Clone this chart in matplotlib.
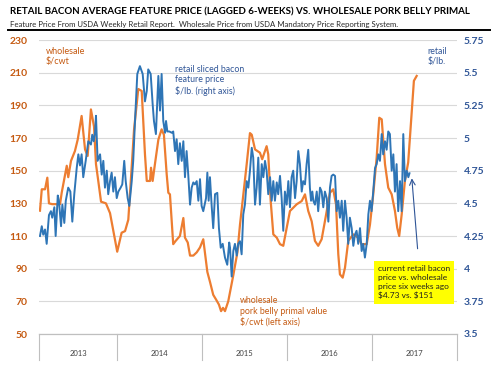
import numpy as np
import matplotlib
matplotlib.use('Agg')
import matplotlib.pyplot as plt
from matplotlib.transforms import blended_transform_factory

plt.rcParams['font.family'] = ['Lato', 'DejaVu Sans']

# 周次，年份分界
year_edges = [0, 48, 100, 152, 204, 256]
year_labels = ['2013', '2014', '2015', '2016', '2017']

# 批发价 猪腹肉 $/cwt（左轴）
wholesale_week = [0.6, 1.7, 3.7, 5.1, 6.1, 8.0, 12.9, 13.9, 17.0, 17.9, 19.6, 22.0, 23.7, 26.1, 28.2,
                  29.8, 31.8, 33.7, 34.9, 36.3, 38.0, 41.0, 43.5, 47.9, 50.6, 52.7, 54.7, 56.3, 58.2,
                  60.8, 62.9, 64.9, 66.0, 68.0, 68.6, 69.6, 71.0, 73.1, 75.1, 76.5, 78.2, 79.2, 80.2,
                  82.2, 83.7, 86.3, 88.4, 89.4, 91.1, 92.5, 94.5, 96.6, 98.6, 100.6, 103.1, 104.7,
                  106.7, 108.5, 110.2, 111.5, 112.7, 113.9, 115.9, 119.0, 121.5, 123.1, 125.1, 127.2,
                  129.2, 130.3, 132.3, 135.3, 136.7, 139.4, 140.4, 141.9, 143.5, 145.6, 147.6, 149.6,
                  151.7, 153.7, 155.7, 157.8, 160.9, 162.9, 164.9, 167.0, 169.0, 171.0, 173.1, 175.1,
                  178.2, 180.2, 181.9, 183.3, 184.3, 186.0, 187.4, 189.4, 192.5, 195.5, 197.6, 200.7,
                  202.7, 204.7, 206.8, 208.4, 209.9, 211.9, 213.9, 216.0, 218.0, 219.4, 220.6, 222.1,
                  224.1, 226.1, 227.6, 229.6, 231.3]
wholesale = [125.5, 138.6, 138.6, 145.7, 130, 129.5, 129.5, 136.5, 153, 146, 156, 162, 169, 183.5, 163,
             159, 187.5, 177, 154, 143.7, 131, 130, 124, 100.4, 112, 113, 120, 145, 175,
             200, 198.8, 160, 143.7, 143.7, 151.8, 143.7, 154, 169, 175.3, 172, 147.8, 136.5, 135.5,
             105, 107, 110, 121, 109, 106, 98, 98, 100, 103, 108, 88, 82,
             74, 71, 68, 64, 66, 64, 70, 86, 100, 117, 135, 154,
             173, 172, 163, 161, 157, 165, 160, 131.4, 111, 109, 105, 104,
             115, 125.3, 127.3, 129.4, 131.4, 135.5, 125.3, 119, 107, 104, 108, 119,
             136.5, 138.6, 129.4, 98.8, 86.5, 84.5, 90.6, 107, 111, 109, 105, 105,
             117, 135.5, 158, 182.4, 181.4, 154, 139.6, 135.5, 125.3, 115, 110, 123,
             143.7, 155, 176.3, 205, 208]

# 零售培根特价 $/lb（右轴）
retail_week = [0.6, 1.7, 2.6, 3.7, 4.7, 6.1, 7.3, 8.1, 9.4, 10.2, 11.5, 12.2, 13.5, 14.3, 15.5, 16.4,
               17.9, 19.2, 20.4, 21.6, 23.1, 24.1, 25.1, 26.1, 27.1, 28.6, 30.2, 31.8, 32.6, 33.5,
               34.3, 34.9, 35.9, 37.4, 38.4, 39.4, 40.4, 41.5, 42.4, 43.5, 44.5, 45.5, 46.5, 47.6,
               48.6, 50.0, 51.0, 52.2, 53.1, 54.3, 55.3, 56.8, 57.7, 58.8, 60.2, 61.8, 63.5, 64.9,
               66.0, 66.9, 68.4, 69.6, 70.4, 71.6, 73.1, 74.1, 75.1, 76.1, 77.2, 77.8, 78.6, 79.8,
               81.3, 82.2, 83.3, 84.3, 85.3, 86.3, 87.4, 88.4, 89.4, 90.4, 91.4, 92.5, 93.5, 94.5,
               95.5, 96.6, 97.6, 98.6, 99.6, 100.6, 102.3, 103.1, 103.9, 104.7, 105.8, 106.7, 107.8,
               109.2, 110.2, 111.3, 112.5, 113.9, 115.3, 116.5, 117.0, 118.0, 119.0, 120.0, 121.1,
               122.0, 123.1, 124.1, 125.1, 126.1, 127.2, 128.2, 129.2, 130.3, 131.2, 132.3, 133.3,
               134.3, 135.3, 136.4, 137.4, 138.4, 139.4, 140.4, 141.5, 142.5, 143.5, 144.5, 145.6,
               146.5, 147.6, 148.6, 149.6, 150.6, 151.7, 152.7, 153.7, 154.7, 155.7, 156.8, 157.8,
               158.8, 159.8, 160.9, 161.8, 162.9, 163.9, 164.9, 165.9, 166.6, 167.4, 168.0, 169.0,
               170.1, 171.0, 172.1, 173.1, 174.1, 175.1, 176.2, 177.2, 178.2, 179.2, 180.2, 181.3,
               182.3, 183.3, 184.3, 185.4, 186.3, 187.4, 188.4, 189.4, 190.4, 191.5, 192.5, 193.5,
               194.5, 195.5, 196.6, 197.6, 198.6, 199.6, 200.7, 201.7, 202.7, 203.7, 204.7, 205.8,
               206.8, 207.8, 208.8, 209.9, 210.8, 211.9, 212.9, 213.9, 214.9, 216.0, 217.0, 218.0,
               219.0, 220.0, 221.1, 222.1, 223.1, 224.1, 225.2, 226.2, 226.9]
retail = [4.25, 4.325, 4.26, 4.30, 4.19, 4.41, 4.44, 4.39, 4.47, 4.25, 4.56, 4.52, 4.325, 4.49, 4.35, 4.52,
          4.62, 4.59, 4.36, 4.57, 4.77, 4.875, 4.79, 4.875, 4.70, 4.825, 4.975, 4.95, 5.025, 4.975,
          5.04, 5.17, 4.825, 4.875, 4.72, 4.825, 4.62, 4.75, 4.57, 4.67, 4.735, 4.59, 4.70, 4.54,
          4.59, 4.62, 4.645, 4.825, 4.67, 4.54, 4.48, 4.67, 4.825, 5.13, 5.49, 5.55, 5.49, 5.28,
          5.36, 5.525, 5.49, 5.26, 5.13, 5.03, 5.475, 5.21, 5.49, 5.13, 5.04, 5.13, 5.05, 5.05,
          5.04, 5.05, 4.90, 4.99, 4.80, 4.96, 4.825, 4.975, 4.70, 4.90, 4.72, 4.49, 4.62, 4.66,
          4.645, 4.67, 4.52, 4.685, 4.48, 4.44, 4.54, 4.735, 4.52, 4.70, 4.47, 4.31, 4.57,
          4.58, 4.31, 4.16, 4.19, 4.085, 4.03, 4.20, 4.16, 3.94, 4.135, 4.19, 4.10,
          4.19, 4.21, 4.11, 4.415, 4.49, 4.67, 4.62, 4.75, 4.925, 4.85, 4.49, 4.62,
          4.85, 4.49, 4.80, 4.70, 4.825, 4.75, 4.57, 4.70, 4.52, 4.67, 4.52, 4.66,
          4.57, 4.71, 4.54, 4.29, 4.59, 4.49, 4.67, 4.47, 4.70, 4.75, 4.54, 4.67,
          4.90, 4.80, 4.59, 4.67, 4.645, 4.80, 4.91, 4.62, 4.52, 4.59, 4.52, 4.49,
          4.59, 4.44, 4.62, 4.59, 4.47, 4.59, 4.54, 4.36, 4.62, 4.71, 4.72, 4.71,
          4.44, 4.52, 4.39, 4.52, 4.29, 4.52, 4.39, 4.19, 4.39, 4.31, 4.175, 4.26,
          4.29, 4.19, 4.31, 4.135, 4.19, 4.085, 4.19, 4.415, 4.52, 4.44, 4.59, 4.77,
          4.80, 4.875, 4.825, 5.03, 4.875, 4.975, 4.91, 5.05, 5.03, 4.75, 4.875, 4.59,
          4.80, 4.44, 4.67, 4.44, 5.03, 4.67, 4.75, 4.70, 4.73]

left_ticks = [50, 70, 90, 110, 130, 150, 170, 190, 210, 230]
right_ticks = [3.5, 3.75, 4, 4.25, 4.5, 4.75, 5, 5.25, 5.5, 5.75]
right_labels = ['3.5', '3.75', '4', '4.25', '4.5', '4.75', '5', '5.25', '5.5', '5.75']

orange = '#ED7D31'
orange_txt = '#C55A11'
blue = '#2E75B6'
blue_txt = '#2F5597'

fig = plt.figure(figsize=(4.91, 3.66), dpi=100)
ax = fig.add_axes([39 / 491, 1 - 334 / 366, 418 / 491, 294 / 366])
ax2 = ax.twinx()

ax.set_xlim(0, 256)
ax.set_ylim(50, 230)
ax2.set_ylim(3.5, 5.75)
ax.set_yticks(left_ticks)
ax.set_yticklabels([str(t) for t in left_ticks], color=orange_txt, fontsize=7.5, fontweight='bold')
ax2.set_yticks(right_ticks)
ax2.set_yticklabels(right_labels, color=blue_txt, fontsize=7.5, fontweight='bold')
ax.tick_params(axis='y', length=0, pad=8)
ax2.tick_params(axis='y', length=0, pad=5)
ax.set_xticks([])
ax.grid(axis='y', color='#D9D9D9', linewidth=0.8)
ax.set_axisbelow(True)
for a in (ax, ax2):
    for s in ['top', 'right', 'left']:
        a.spines[s].set_visible(False)
    a.spines['bottom'].set_color('#BFBFBF')
    a.spines['bottom'].set_linewidth(0.8)

ax.plot(wholesale_week, wholesale, color=orange, linewidth=1.6, zorder=3)
ax2.plot(retail_week, retail, color=blue, linewidth=1.4, zorder=3)

# 年份分类轴
trans = blended_transform_factory(ax.transData, ax.transAxes)
for e in year_edges:
    ax.plot([e, e], [0, -0.09], transform=trans, color='#BFBFBF', linewidth=0.8, clip_on=False)
for i, lab in enumerate(year_labels):
    ax.text((year_edges[i] + year_edges[i + 1]) / 2, -0.066, lab, transform=trans,
            ha='center', va='center', fontsize=5.5, color='#404040')

# 标题
fig.text(10 / 491, 1 - 12 / 366, 'RETAIL BACON AVERAGE FEATURE PRICE (LAGGED 6-WEEKS) VS. WHOLESALE PORK BELLY PRIMAL',
         fontsize=7.0, fontweight='bold', color='black', va='center')
fig.text(10 / 491, 1 - 24 / 366, 'Feature Price From USDA Weekly Retail Report.  Wholesale Price from USDA Mandatory Price Reporting System.',
         fontsize=5.6, color='#262626', va='center')
fig.add_artist(plt.Line2D([8 / 491, 1], [1 - 30 / 366, 1 - 30 / 366], color='black', linewidth=1.4))

# 注释
ax.text(4, 226, 'wholesale\n\\$/cwt', color=orange_txt, fontsize=6.5, va='top', linespacing=1.2)
ax.text(83, 215, 'retail sliced bacon\nfeature price\n\\$/lb. (right axis)', color=blue_txt,
        fontsize=6.3, va='top', linespacing=1.2)
ax.text(238, 226, 'retail\n\\$/lb.', color=blue_txt, fontsize=6.3, va='top', linespacing=1.2)
ax.text(123, 73, 'wholesale\npork belly primal value\n\\$/cwt (left axis)', color=orange_txt,
        fontsize=6.3, va='top', linespacing=1.2)
ax.text(207.5, 92, 'current retail bacon\nprice vs. wholesale\nprice six weeks ago\n\\$4.73 vs. \\$151',
        fontsize=6, color='#1F1F1F', va='top', linespacing=1.3, zorder=5,
        bbox=dict(boxstyle='square,pad=0.5', facecolor='#FFFF00', edgecolor='none'))
ax.annotate('', xy=(228.2, 147), xytext=(232, 100.5),
            arrowprops=dict(arrowstyle='->', color=blue_txt, linewidth=0.8), zorder=4)

fig.savefig('out.png', dpi=100)
